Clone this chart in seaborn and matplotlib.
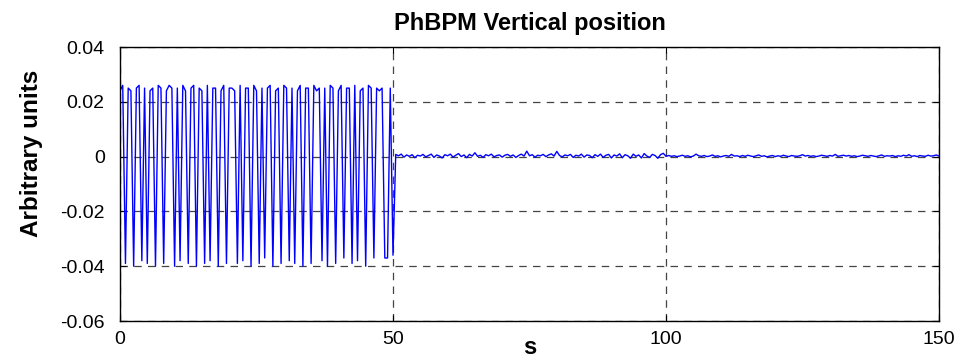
import numpy as np
import pandas as pd
import matplotlib
matplotlib.use("Agg")
import matplotlib.pyplot as plt
import seaborn as sns

# ---- data ----
sample_step_s = 0.5  # sampling interval of the signal, seconds

# 0 .. 50 s : large oscillation (values in 1e-3 arbitrary units)
osc_milli = [
    24, 26, -39, 25, 24, -40, 25, 26, -38, 25,
    -39, 24, 25, -40, 26, 25, -39, 24, 26, 25,
    -40, 25, -38, 26, 24, -39, 25, 26, -40, 25,
    24, -39, 26, -38, 25, 25, -40, 24, 26, -39,
    25, 25, 24, -39, 26, -38, 25, 25, -40, 26,
    24, -39, 25, -37, 25, 26, -40, 24, 25, -39,
    26, 25, -38, 25, -39, 24, 26, -40, 25, 25,
    -39, 26, 24, 25, -38, 25, -40, 26, 25, -39,
    24, 26, -37, 25, 25, -39, 26, -38, 24, 25,
    -40, 26, 25, -37, 25, 24, 25, -37, -37, 25,
    -36,
]

# 50.5 .. 100 s : residual noise (1e-3 units)
noise_a_milli = [
    0.8, 0.3, 0.9, -0.2, 0.6, 0.1, 0.7, -0.4, 0.5, 0.2,
    0.8, -0.1, 0.4, 0.9, -0.3, 0.6, 0.2, -0.5, 0.7, 0.3,
    0.9, -0.2, 0.5, 1.1, 0.0, 0.6, -0.4, 0.8, 0.2, 1.4,
    0.1, 0.5, -0.3, 0.7, 0.3, 0.9, -0.1, 0.4, 0.6, -0.2,
    0.5, 0.8, 0.1, 0.6, -0.3, 0.4, 0.9, 0.2, 2.0, 0.3,
    0.7, -0.2, 0.5, 0.3, 0.8, 0.0, 0.6, 1.0, 0.2, 1.9,
    0.4, -0.1, 0.6, 0.3, 0.8, -0.3, 0.5, 0.2, 0.9, -0.2,
    0.6, 0.4, -0.4, 0.7, 0.1, 0.9, -0.3, 0.5, 0.8, -0.5,
    0.6, 0.2, 1.0, -0.4, 0.7, 0.3, -0.6, 0.9, 0.1, 0.6,
    -0.5, 1.1, 0.2, -0.3, 0.8, 0.4, -0.6, 0.7, 1.2, 0.1,
]

# 100.5 .. 150 s : residual noise (1e-3 units)
noise_b_milli = [
    0.4, 0.1, 0.3, 0.0, 0.2, 0.5, 0.1, 0.3, -0.1, 0.2,
    0.9, 0.3, 0.1, 0.4, 0.0, 0.2, 0.6, 0.1, 0.3, -0.1,
    0.2, 0.4, 0.1, 0.8, 0.2, 0.3, 0.0, 0.4, 0.1, 0.5,
    0.2, 0.0, 0.3, 0.6, 0.1, 0.3, -0.1, 0.2, 0.4, 0.0,
    0.3, 0.1, 0.5, 0.2, 0.0, 0.4, 0.2, 0.1, 0.3, 0.7,
    0.2, 0.4, 0.1, 0.3, 0.0, 0.2, 0.5, 0.3, 0.1, 0.4,
    0.2, 0.8, 0.1, 0.3, 0.5, 0.2, 0.4, 0.1, 0.3, 0.0,
    0.2, 0.5, 0.3, 0.1, 0.4, 0.2, 0.0, 0.3, 0.6, 0.1,
    0.3, 0.2, 0.4, 0.0, 0.3, 0.1, 0.5, 0.2, 0.7, 0.1,
    0.3, 0.0, 0.4, 0.2, 0.1, 0.5, 0.2, 0.3, 0.6, 0.2,
]

x_ticks = [0, 50, 100, 150]
y_ticks = [-0.06, -0.04, -0.02, 0, 0.02, 0.04]
y_tick_labels = ["-0.06", "-0.04", "-0.02", "0", "0.02", "0.04"]
title_text = "PhBPM Vertical position"
x_label = "s"
y_label = "Arbitrary units"

# ---- build table ----
values = np.array(osc_milli + noise_a_milli + noise_b_milli, dtype=float) / 1000.0
times = np.arange(len(values)) * sample_step_s
df = pd.DataFrame({"s": times, "pos": values})

# ---- plot ----
sns.set_theme(style="white")
plt.rcParams["font.family"] = ["Liberation Sans", "DejaVu Sans"]
plt.rcParams["text.color"] = "black"
plt.rcParams["axes.labelcolor"] = "black"
plt.rcParams["xtick.color"] = "black"
plt.rcParams["ytick.color"] = "black"

fig = plt.figure(figsize=(9.61, 3.59), dpi=100)
ax = fig.add_axes([120 / 961, 1 - 321 / 359, (939 - 120) / 961, (321 - 47) / 359])

sns.lineplot(data=df, x="s", y="pos", ax=ax, color="#0000ff", linewidth=1.0,
             estimator=None, sort=False)

ax.set_xlim(0, 150)
ax.set_ylim(-0.06, 0.04)
ax.set_xticks(x_ticks)
ax.set_xticklabels([str(t) for t in x_ticks])
ax.set_yticks(y_ticks)
ax.set_yticklabels(y_tick_labels)

ax.grid(True, color="#303030", linestyle=(0, (6, 5)), linewidth=0.9, alpha=0.9)
ax.set_axisbelow(True)

for sp in ax.spines.values():
    sp.set_color("black")
    sp.set_linewidth(1.0)
    sp.set_visible(True)

ax.tick_params(axis="both", direction="in", length=4, width=0.8, colors="black",
               labelsize=14, top=True, right=True, bottom=True, left=True)
ax.tick_params(axis="y", pad=11)
ax.tick_params(axis="x", pad=7)

ax.set_title(title_text, fontsize=17, fontweight="bold", pad=12, color="black")
ax.set_xlabel(x_label, fontsize=17, fontweight="bold", color="black",
              verticalalignment="center")
ax.xaxis.set_label_coords(0.5, -0.095)
ax.set_ylabel(y_label, fontsize=17.5, fontweight="bold", color="black")
ax.yaxis.set_label_coords(-0.094, 0.61)

fig.savefig("out.png", dpi=100, facecolor="white")
